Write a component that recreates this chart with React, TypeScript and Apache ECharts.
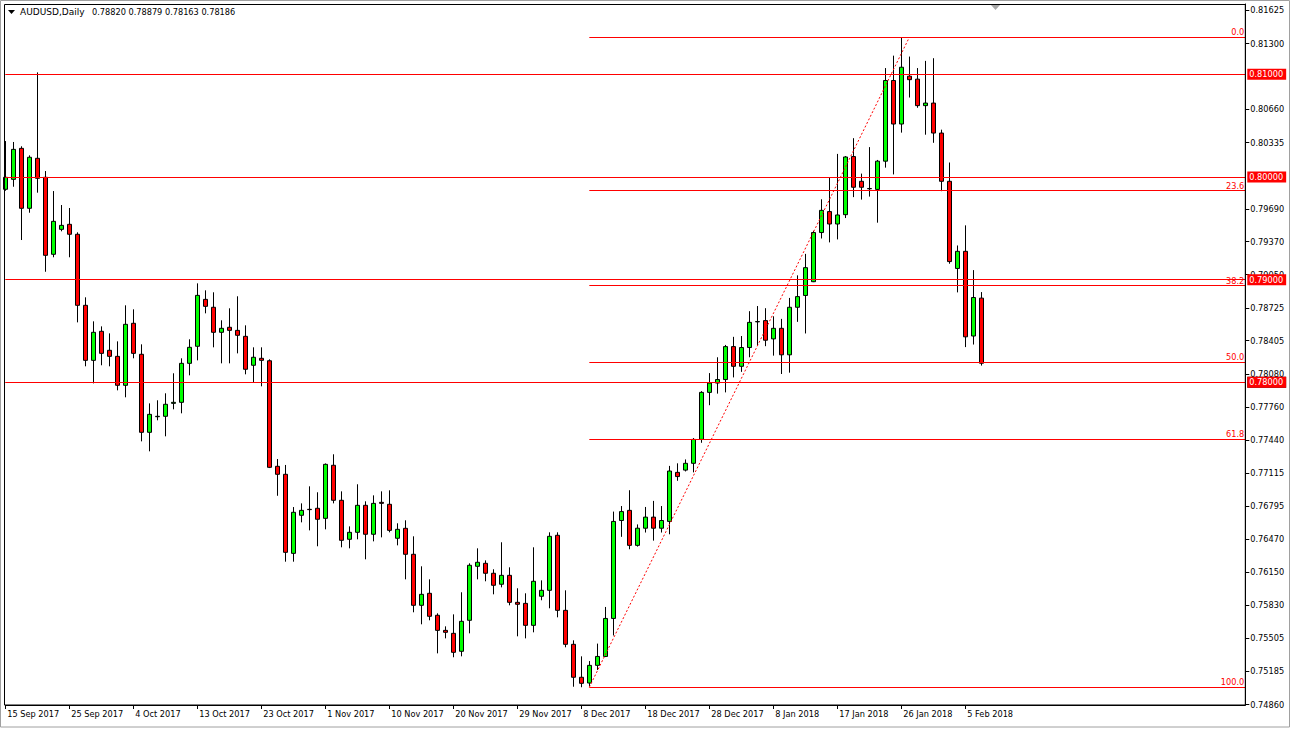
import { useEffect, useRef } from "react";
import * as echarts from "echarts";

const dates = [
  "15 Sep 2017", "17 Sep 2017", "18 Sep 2017", "19 Sep 2017", "20 Sep 2017", "21 Sep 2017", "22 Sep 2017", "24 Sep 2017",
  "25 Sep 2017", "26 Sep 2017", "27 Sep 2017", "28 Sep 2017", "29 Sep 2017", "1 Oct 2017", "2 Oct 2017", "3 Oct 2017",
  "4 Oct 2017", "5 Oct 2017", "6 Oct 2017", "8 Oct 2017", "9 Oct 2017", "10 Oct 2017", "11 Oct 2017", "12 Oct 2017",
  "13 Oct 2017", "15 Oct 2017", "16 Oct 2017", "17 Oct 2017", "18 Oct 2017", "19 Oct 2017", "20 Oct 2017", "22 Oct 2017",
  "23 Oct 2017", "24 Oct 2017", "25 Oct 2017", "26 Oct 2017", "27 Oct 2017", "29 Oct 2017", "30 Oct 2017", "31 Oct 2017",
  "1 Nov 2017", "2 Nov 2017", "3 Nov 2017", "5 Nov 2017", "6 Nov 2017", "7 Nov 2017", "8 Nov 2017", "9 Nov 2017",
  "10 Nov 2017", "12 Nov 2017", "13 Nov 2017", "14 Nov 2017", "15 Nov 2017", "16 Nov 2017", "17 Nov 2017", "19 Nov 2017",
  "20 Nov 2017", "21 Nov 2017", "22 Nov 2017", "23 Nov 2017", "24 Nov 2017", "26 Nov 2017", "27 Nov 2017", "28 Nov 2017",
  "29 Nov 2017", "30 Nov 2017", "1 Dec 2017", "3 Dec 2017", "4 Dec 2017", "5 Dec 2017", "6 Dec 2017", "7 Dec 2017",
  "8 Dec 2017", "10 Dec 2017", "11 Dec 2017", "12 Dec 2017", "13 Dec 2017", "14 Dec 2017", "15 Dec 2017", "17 Dec 2017",
  "18 Dec 2017", "19 Dec 2017", "20 Dec 2017", "21 Dec 2017", "22 Dec 2017", "25 Dec 2017", "26 Dec 2017", "27 Dec 2017",
  "28 Dec 2017", "29 Dec 2017", "1 Jan 2018", "2 Jan 2018", "3 Jan 2018", "4 Jan 2018", "5 Jan 2018", "7 Jan 2018",
  "8 Jan 2018", "9 Jan 2018", "10 Jan 2018", "11 Jan 2018", "12 Jan 2018", "14 Jan 2018", "15 Jan 2018", "16 Jan 2018",
  "17 Jan 2018", "18 Jan 2018", "19 Jan 2018", "21 Jan 2018", "22 Jan 2018", "23 Jan 2018", "24 Jan 2018", "25 Jan 2018",
  "26 Jan 2018", "28 Jan 2018", "29 Jan 2018", "30 Jan 2018", "31 Jan 2018", "1 Feb 2018", "2 Feb 2018", "4 Feb 2018",
  "5 Feb 2018", "6 Feb 2018", "7 Feb 2018",
];

const opens = [
  0.7988, 0.79977, 0.80279, 0.79695, 0.80182, 0.79997, 0.79247, 0.7949, 0.79539, 0.79442,
  0.7875, 0.78214, 0.78497, 0.78312, 0.78253, 0.77971, 0.78575, 0.78273, 0.77513, 0.77665,
  0.77669, 0.77795, 0.77805, 0.78185, 0.78351, 0.78808, 0.78731, 0.78487, 0.78536, 0.78506,
  0.78448, 0.78166, 0.78234, 0.7821, 0.77182, 0.77104, 0.76334, 0.76705, 0.76763, 0.76773,
  0.76675, 0.77192, 0.76851, 0.76471, 0.76539, 0.76802, 0.7652, 0.76831, 0.76812, 0.76481,
  0.76578, 0.76325, 0.75828, 0.75945, 0.75731, 0.75584, 0.75555, 0.7538, 0.75682, 0.76208,
  0.76237, 0.7614, 0.76033, 0.7612, 0.75857, 0.75847, 0.75633, 0.75916, 0.75974, 0.7651,
  0.75779, 0.75448, 0.75127, 0.75071, 0.75243, 0.7533, 0.757, 0.76654, 0.76753, 0.76412,
  0.76579, 0.76687, 0.76579, 0.76645, 0.77123, 0.77145, 0.77211, 0.77444, 0.77902, 0.77993,
  0.78027, 0.78348, 0.78156, 0.78339, 0.78589, 0.78601, 0.78423, 0.78526, 0.78268, 0.78731,
  0.78846, 0.7898, 0.79459, 0.79663, 0.79542, 0.79633, 0.80199, 0.79958, 0.79888, 0.79879,
  0.80154, 0.8094, 0.80516, 0.80982, 0.80953, 0.80695, 0.8072, 0.80428, 0.79958, 0.79109,
  0.79276, 0.78451, 0.7882,
];

const highs = [
  0.8035, 0.80341, 0.80299, 0.80211, 0.81019, 0.80058, 0.79863, 0.79727, 0.79698, 0.79461,
  0.78828, 0.78594, 0.78545, 0.78477, 0.78399, 0.7875, 0.78711, 0.7837, 0.77795, 0.77825,
  0.77893, 0.78088, 0.78234, 0.78419, 0.78964, 0.78896, 0.78877, 0.78604, 0.78721, 0.78838,
  0.78555, 0.78341, 0.78341, 0.78224, 0.77253, 0.77195, 0.76785, 0.76821, 0.76987, 0.76929,
  0.7721, 0.77299, 0.76938, 0.76597, 0.77007, 0.76841, 0.76899, 0.76938, 0.76948, 0.76627,
  0.76656, 0.765, 0.76208, 0.76081, 0.7575, 0.75623, 0.7574, 0.75955, 0.76237, 0.76383,
  0.76266, 0.76179, 0.76442, 0.76198, 0.75994, 0.75945, 0.76393, 0.76071, 0.76539, 0.76539,
  0.75974, 0.75487, 0.75331, 0.75285, 0.75455, 0.75812, 0.76741, 0.76795, 0.76949, 0.76616,
  0.76786, 0.76845, 0.76795, 0.77186, 0.77211, 0.77249, 0.77457, 0.77914, 0.7809, 0.78244,
  0.78364, 0.78443, 0.78451, 0.78693, 0.78743, 0.78722, 0.78643, 0.78618, 0.78822, 0.79042,
  0.79251, 0.79476, 0.79783, 0.79996, 0.80225, 0.80204, 0.80378, 0.80033, 0.80291, 0.80166,
  0.81061, 0.81182, 0.8136, 0.81173, 0.81061, 0.81131, 0.81157, 0.80461, 0.80141, 0.79333,
  0.79529, 0.79093, 0.78879,
];

const lows = [
  0.79866, 0.79905, 0.79386, 0.79652, 0.79847, 0.79077, 0.79218, 0.79471, 0.79218, 0.78584,
  0.78156, 0.7799, 0.78166, 0.78156, 0.77922, 0.77854, 0.78234, 0.77425, 0.77328, 0.7763,
  0.77474, 0.77737, 0.77698, 0.78068, 0.78214, 0.78672, 0.78341, 0.78185, 0.78185, 0.78282,
  0.78078, 0.78, 0.77961, 0.77165, 0.76895, 0.76253, 0.76253, 0.76636, 0.76558, 0.76403,
  0.76568, 0.76821, 0.76393, 0.76383, 0.76471, 0.76276, 0.76451, 0.7649, 0.76539, 0.76412,
  0.76081, 0.7576, 0.75643, 0.75682, 0.7536, 0.75506, 0.75322, 0.75331, 0.75555, 0.76081,
  0.76062, 0.75935, 0.76003, 0.75828, 0.75526, 0.75506, 0.75565, 0.75877, 0.75799, 0.75711,
  0.75419, 0.75035, 0.7503, 0.75042, 0.75198, 0.75324, 0.75534, 0.76495, 0.76374, 0.764,
  0.76537, 0.76458, 0.76537, 0.7652, 0.77041, 0.77132, 0.77123, 0.77411, 0.77777, 0.7789,
  0.77902, 0.78048, 0.78102, 0.78244, 0.7836, 0.78352, 0.7826, 0.78081, 0.78094, 0.78589,
  0.78476, 0.78976, 0.79401, 0.79363, 0.79392, 0.796, 0.79804, 0.7978, 0.79809, 0.79555,
  0.80091, 0.80025, 0.80432, 0.80774, 0.80674, 0.80412, 0.80333, 0.79862, 0.79155, 0.78876,
  0.78343, 0.78368, 0.78163,
];

const closes = [
  0.79997, 0.80269, 0.79695, 0.80192, 0.79987, 0.79237, 0.79568, 0.79529, 0.79442, 0.7875,
  0.78214, 0.78487, 0.78282, 0.78253, 0.77971, 0.78565, 0.78282, 0.77513, 0.77688, 0.77669,
  0.77786, 0.77805, 0.78185, 0.78341, 0.78847, 0.7874, 0.78487, 0.78526, 0.78506, 0.78458,
  0.78127, 0.78244, 0.78214, 0.77172, 0.77104, 0.76344, 0.76734, 0.76753, 0.7676, 0.76666,
  0.77201, 0.76851, 0.76461, 0.76539, 0.76802, 0.7652, 0.76821, 0.76821, 0.76558, 0.76568,
  0.76325, 0.75828, 0.75935, 0.75721, 0.75584, 0.75565, 0.7537, 0.75672, 0.76218, 0.76247,
  0.7614, 0.76023, 0.7612, 0.75857, 0.75838, 0.75633, 0.76062, 0.75974, 0.765, 0.75779,
  0.75448, 0.75127, 0.75068, 0.75243, 0.7533, 0.757, 0.76645, 0.76741, 0.76412, 0.76579,
  0.76687, 0.76579, 0.76654, 0.77136, 0.77082, 0.77211, 0.77444, 0.77902, 0.77993, 0.78027,
  0.78348, 0.78156, 0.78339, 0.78584, 0.78592, 0.7841, 0.78526, 0.78268, 0.78731, 0.78835,
  0.79117, 0.79459, 0.79675, 0.79542, 0.7963, 0.80195, 0.799, 0.799, 0.79885, 0.80154,
  0.8094, 0.80516, 0.81069, 0.80948, 0.80695, 0.8072, 0.80428, 0.79958, 0.79176, 0.79276,
  0.78443, 0.78826, 0.78186,
];

const yTickValues = [
  0.81625, 0.813, 0.8066, 0.80335, 0.7969, 0.7937, 0.7905, 0.78725, 0.78405, 0.7808,
  0.7776, 0.7744, 0.77115, 0.76795, 0.7647, 0.7615, 0.7583, 0.75505, 0.75185, 0.7486,
];

const levelLines = [0.81, 0.8, 0.79, 0.78];
const bidPrice = 0.78186;
const fibRatios = [0, 23.6, 38.2, 50, 61.8, 100];
const fibHigh = 0.8136;
const fibLow = 0.7503;
const fibStartIndex = 73;
const trendEndIndex = 113;
const headerSymbol = "AUDUSD,Daily";
const headerQuote = "0.78820 0.78879 0.78163 0.78186";

const PAD_COUNT = 33;
const FONT = "DejaVu Sans";

export default function App() {
  const ref = useRef<HTMLDivElement>(null);

  useEffect(() => {
    document.body.style.margin = "0";
    if (!ref.current) return;
    const chart = echarts.init(ref.current, null, { renderer: "svg" });

    const categories = dates.concat(new Array(PAD_COUNT).fill(""));
    const lastIndex = categories.length - 1;
    const candleData = dates.map((_, i) => [opens[i], closes[i], lows[i], highs[i]]);
    const showTick = (idx: number) => idx % 8 === 0 && idx < dates.length;

    const priceLabel = (bg: string) => ({
      show: true,
      position: "end",
      distance: 2,
      backgroundColor: bg,
      color: "#ffffff",
      fontFamily: FONT,
      fontSize: 8.2,
      lineHeight: 9,
      padding: [1, 3, 1, 2],
    });

    const markData: any[] = [];
    markData.push({
      yAxis: bidPrice,
      lineStyle: { color: "#c0c0c0", width: 1, type: "solid" },
      label: { ...priceLabel("#000000"), formatter: bidPrice.toFixed(5) },
    });
    levelLines.forEach((v) => {
      markData.push({
        yAxis: v,
        lineStyle: { color: "#ff0000", width: 1, type: "solid" },
        label: { ...priceLabel("#ff0000"), formatter: v.toFixed(5) },
      });
    });
    fibRatios.forEach((r) => {
      const p = fibHigh - ((fibHigh - fibLow) * r) / 100;
      markData.push([
        {
          coord: [fibStartIndex, p],
          lineStyle: { color: "#ff0000", width: 1, type: "solid" },
          label: {
            show: true,
            position: "insideEndTop",
            distance: 1,
            formatter: r.toFixed(1),
            color: "#ff0000",
            fontFamily: FONT,
            fontSize: 8.2,
          },
        },
        { coord: [lastIndex, p] },
      ]);
    });
    markData.push([
      {
        coord: [fibStartIndex, fibLow],
        lineStyle: { color: "#ff0000", width: 1, type: [2, 2] },
        label: { show: false },
      },
      { coord: [trendEndIndex, fibHigh] },
    ]);

    chart.setOption({
      animation: false,
      backgroundColor: "#ffffff",
      textStyle: { fontFamily: FONT },
      grid: { left: 5.3, right: 44.7, top: 4, bottom: 24, containLabel: false },
      xAxis: {
        type: "category",
        data: categories,
        boundaryGap: false,
        axisLine: { show: true, lineStyle: { color: "#000000", width: 1 } },
        axisTick: { show: true, interval: (idx: number) => showTick(idx), length: 4, lineStyle: { color: "#000000" } },
        axisLabel: {
          show: true,
          interval: (idx: number) => showTick(idx),
          align: "left",
          padding: [0, 0, 0, 2],
          margin: 5,
          color: "#000000",
          fontFamily: FONT,
          fontSize: 8.2,
        },
        splitLine: { show: false },
      },
      yAxis: {
        type: "value",
        position: "right",
        min: 0.74857,
        max: 0.81685,
        scale: true,
        axisLine: { show: true, lineStyle: { color: "#000000", width: 1 } },
        axisTick: { show: true, customValues: yTickValues, length: 4, lineStyle: { color: "#000000" } },
        axisLabel: {
          show: true,
          customValues: yTickValues,
          formatter: (v: number) => v.toFixed(5),
          margin: 5,
          color: "#000000",
          fontFamily: FONT,
          fontSize: 8.2,
        },
        splitLine: { show: false },
      },
      series: [
        {
          type: "candlestick",
          data: candleData,
          barWidth: 4,
          clip: true,
          itemStyle: {
            color: "#00ff00",
            color0: "#ff0000",
            borderColor: "#000000",
            borderColor0: "#000000",
            borderColorDoji: "#000000",
            borderWidth: 1,
          },
          markLine: {
            silent: true,
            symbol: ["none", "none"],
            animation: false,
            data: markData,
          },
        },
      ],
      graphic: [
        {
          type: "rect",
          z: 100,
          shape: { x: 0.5, y: 0.5, width: 1289, height: 726.5 },
          style: { fill: "none", stroke: "#a0a0a0", lineWidth: 1 },
          silent: true,
        },
        {
          type: "rect",
          z: 100,
          shape: { x: 4.5, y: 4.5, width: 1240.8, height: 700.5 },
          style: { fill: "none", stroke: "#000000", lineWidth: 1 },
          silent: true,
        },
        {
          type: "polygon",
          z: 100,
          shape: { points: [[991, 5], [1000, 5], [995.5, 10]] },
          style: { fill: "#a8a8a8" },
          silent: true,
        },
        {
          type: "polygon",
          z: 100,
          shape: { points: [[8, 10], [15, 10], [11.5, 14]] },
          style: { fill: "#000000" },
          silent: true,
        },
        {
          type: "text",
          z: 100,
          x: 20,
          y: 12,
          style: {
            text: headerSymbol,
            fill: "#000000",
            font: `9px "${FONT}"`,
            verticalAlign: "middle",
            align: "left",
          },
          silent: true,
        },
        {
          type: "text",
          z: 100,
          x: 92,
          y: 12,
          style: {
            text: headerQuote,
            fill: "#000000",
            font: `8.2px "${FONT}"`,
            verticalAlign: "middle",
            align: "left",
          },
          silent: true,
        },
      ],
    });

    return () => {
      chart.dispose();
    };
  }, []);

  return (
    <div
      ref={ref}
      style={{ position: "absolute", left: 0, top: 0, width: 1290, height: 729 }}
    />
  );
}
